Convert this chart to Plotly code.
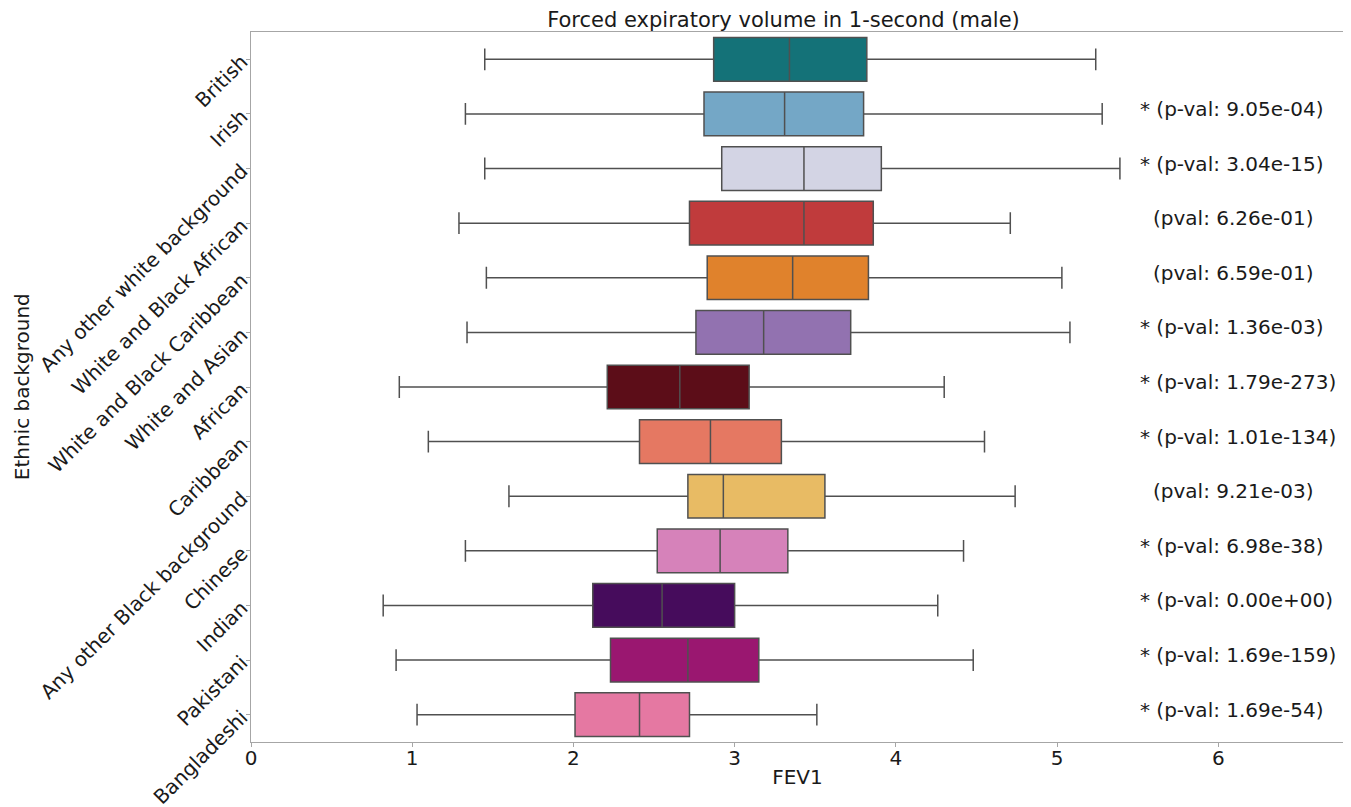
import plotly.graph_objects as go

categories = ["British", "Irish", "Any other white background", "White and Black African",
              "White and Black Caribbean", "White and Asian", "African", "Caribbean",
              "Any other Black background", "Chinese", "Indian", "Pakistani", "Bangladeshi"]
lower = [1.45, 1.33, 1.45, 1.29, 1.46, 1.34, 0.92, 1.10, 1.60, 1.33, 0.82, 0.90, 1.03]
q1 = [2.87, 2.81, 2.92, 2.72, 2.83, 2.76, 2.21, 2.41, 2.71, 2.52, 2.12, 2.23, 2.01]
median = [3.34, 3.31, 3.43, 3.43, 3.36, 3.18, 2.66, 2.85, 2.93, 2.91, 2.55, 2.71, 2.41]
q3 = [3.82, 3.80, 3.91, 3.86, 3.83, 3.72, 3.09, 3.29, 3.56, 3.33, 3.00, 3.15, 2.72]
upper = [5.24, 5.28, 5.39, 4.71, 5.03, 5.08, 4.30, 4.55, 4.74, 4.42, 4.26, 4.48, 3.51]
colors = ["#147278", "#74a7c6", "#d3d4e4", "#c03b3c", "#e0822c", "#9272b0", "#5c0d18",
          "#e57862", "#e8bb64", "#d682ba", "#460c5c", "#9a1770", "#e578a2"]
pvals = ["", "9.05e-04", "3.04e-15", "6.26e-01", "6.59e-01", "1.36e-03", "1.79e-273",
         "1.01e-134", "9.21e-03", "6.98e-38", "0.00e+00", "1.69e-159", "1.69e-54"]
significant = [False, True, True, False, False, True, True, True, False, True, True, True, True]

FONT = "DejaVu Sans"
TXT = "#1a1a1a"
fig = go.Figure()
for i, cat in enumerate(categories):
    fig.add_trace(go.Box(
        y=[cat], q1=[q1[i]], median=[median[i]], q3=[q3[i]],
        lowerfence=[lower[i]], upperfence=[upper[i]],
        orientation="h", fillcolor=colors[i],
        line=dict(color="rgb(80,80,80)", width=1.5),
        whiskerwidth=0.5, width=0.8, boxpoints=False, showlegend=False,
        name=cat,
    ))

for i, cat in enumerate(categories):
    if not pvals[i]:
        continue
    if significant[i]:
        text, xpos = "* (p-val: %s)" % pvals[i], 5.5
    else:
        text, xpos = "(pval: %s)" % pvals[i], 5.58
    fig.add_annotation(x=xpos, y=cat, text=text, showarrow=False, xanchor="left",
                       yshift=5, font=dict(family=FONT, size=20, color=TXT))

fig.add_annotation(text="Ethnic background", xref="paper", yref="paper", x=-0.2093, y=0.5,
                   textangle=-90, showarrow=False, xanchor="center", yanchor="middle",
                   font=dict(family=FONT, size=20, color=TXT))

axis_common = dict(showline=True, linecolor="#a6a6a6", linewidth=1.2, mirror=True,
                   showgrid=False, zeroline=False, ticks="outside", ticklen=4,
                   tickcolor="#a6a6a6", automargin=False,
                   tickfont=dict(family=FONT, size=20, color=TXT))

fig.update_layout(
    width=1351, height=807,
    margin=dict(l=243, r=15, t=24, b=73, autoexpand=False),
    plot_bgcolor="white", paper_bgcolor="white",
    title=dict(text="Forced expiratory volume in 1-second (male)", x=0.574, xanchor="center",
               y=0.985, yanchor="middle", font=dict(family=FONT, size=21, color=TXT)),
    xaxis=dict(range=[0, 6.78], tickvals=[0, 1, 2, 3, 4, 5, 6], ticklabelstandoff=-6,
               title=dict(text="FEV1", font=dict(family=FONT, size=20, color=TXT), standoff=0),
               **axis_common),
    yaxis=dict(categoryorder="array", categoryarray=categories,
               range=[12.5, -0.5], tickangle=-45,
               **axis_common),
    boxmode="overlay",
)

fig.write_html("out.html")
